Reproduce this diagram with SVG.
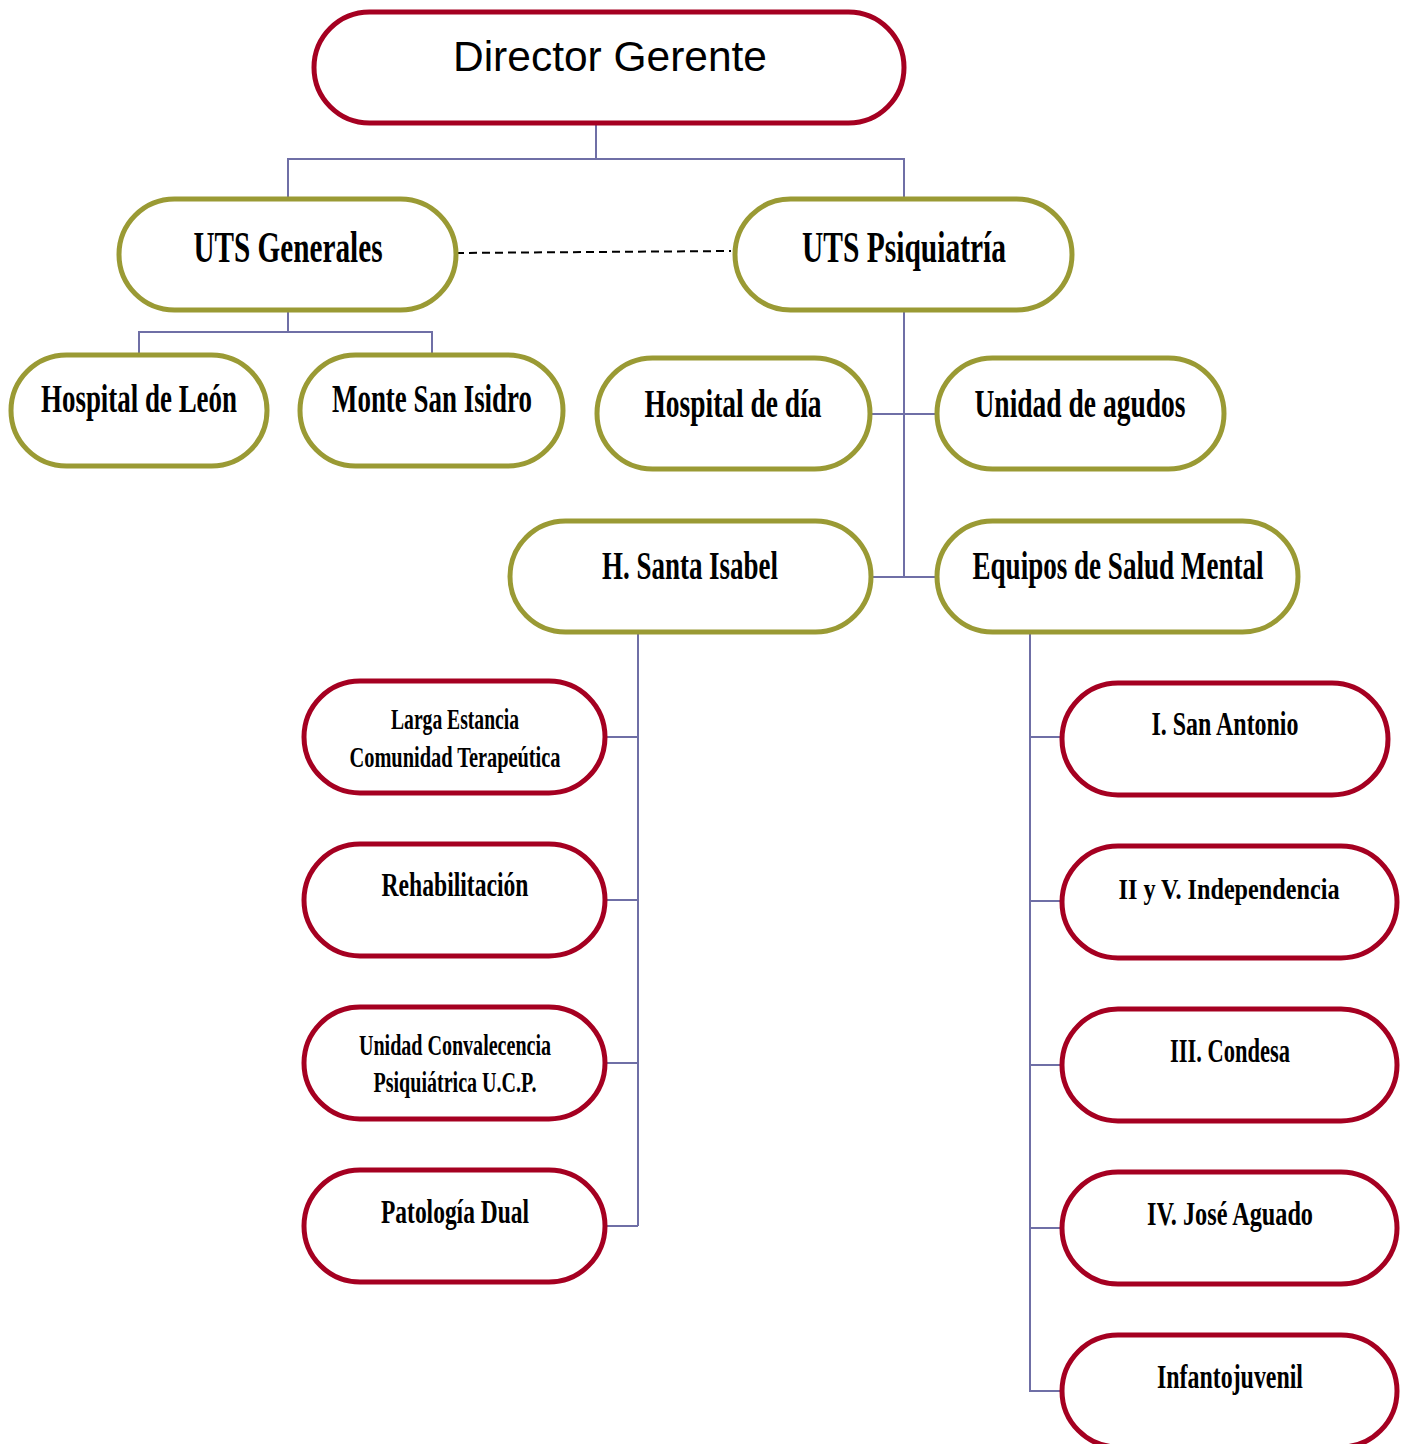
<svg xmlns="http://www.w3.org/2000/svg" width="1408" height="1444" viewBox="0 0 1408 1444">
<style>
.red{fill:#fff;stroke:#A50021;stroke-width:5}
.olv{fill:#fff;stroke:#9A9A34;stroke-width:5}
.con{fill:none;stroke:#6F6FA6;stroke-width:2}
.dash{fill:none;stroke:#000;stroke-width:2;stroke-dasharray:8 5}
.t{font-family:"Liberation Serif","Times New Roman",serif;font-weight:bold;fill:#000;text-anchor:middle}
.a{font-family:"Liberation Sans",Arial,sans-serif;font-size:42px;fill:#000;text-anchor:middle}
</style>
<rect width="1408" height="1444" fill="#fff"/>
<g id="connectors">
<polyline class="con" points="596,123 596,159"/>
<polyline class="con" points="288,199 288,159 904,159 904,199"/>
<line class="dash" x1="456" y1="253" x2="731" y2="251"/>
<polyline class="con" points="288,310 288,332"/>
<polyline class="con" points="139,355 139,332 432,332 432,355"/>
<polyline class="con" points="904,310 904,577"/>
<polyline class="con" points="870,414 937,414"/>
<polyline class="con" points="871,577 937,577"/>
<polyline class="con" points="638,632 638,1226"/>
<polyline class="con" points="605,737 638,737"/>
<polyline class="con" points="605,900 638,900"/>
<polyline class="con" points="605,1063 638,1063"/>
<polyline class="con" points="605,1226 638,1226"/>
<polyline class="con" points="1030,632 1030,1391 1062,1391"/>
<polyline class="con" points="1030,737 1062,737"/>
<polyline class="con" points="1030,901 1062,901"/>
<polyline class="con" points="1030,1065 1062,1065"/>
<polyline class="con" points="1030,1228 1062,1228"/>
</g>
<g id="director">
<rect class="red" x="314" y="12" width="590" height="111" rx="55.5"/>
<text class="a" x="610" y="71" textLength="314" lengthAdjust="spacingAndGlyphs">Director Gerente</text>
</g>
<g id="uts-generales">
<rect class="olv" x="119" y="199" width="337" height="111" rx="55.5"/>
<text class="t" x="288" y="262" font-size="44" textLength="189" lengthAdjust="spacingAndGlyphs">UTS Generales</text>
</g>
<g id="uts-psiquiatria">
<rect class="olv" x="735" y="199" width="337" height="111" rx="55.5"/>
<text class="t" x="904" y="262" font-size="44" textLength="204" lengthAdjust="spacingAndGlyphs">UTS Psiquiatría</text>
</g>
<g id="hospital-leon">
<rect class="olv" x="11" y="355" width="256" height="111" rx="55.5"/>
<text class="t" x="139" y="412" font-size="40" textLength="196" lengthAdjust="spacingAndGlyphs">Hospital de León</text>
</g>
<g id="monte-san-isidro">
<rect class="olv" x="300" y="355" width="263" height="111" rx="55.5"/>
<text class="t" x="432" y="412" font-size="40" textLength="200" lengthAdjust="spacingAndGlyphs">Monte San Isidro</text>
</g>
<g id="hospital-dia">
<rect class="olv" x="597" y="358" width="273" height="111" rx="55.5"/>
<text class="t" x="733" y="417" font-size="40" textLength="177" lengthAdjust="spacingAndGlyphs">Hospital de día</text>
</g>
<g id="unidad-agudos">
<rect class="olv" x="937" y="358" width="287" height="111" rx="55.5"/>
<text class="t" x="1080" y="417" font-size="40" textLength="211" lengthAdjust="spacingAndGlyphs">Unidad de agudos</text>
</g>
<g id="santa-isabel">
<rect class="olv" x="510" y="521" width="361" height="111" rx="55.5"/>
<text class="t" x="690" y="579" font-size="40" textLength="176" lengthAdjust="spacingAndGlyphs">H. Santa Isabel</text>
</g>
<g id="equipos-salud-mental">
<rect class="olv" x="937" y="521" width="361" height="111" rx="55.5"/>
<text class="t" x="1118" y="579" font-size="40" textLength="291" lengthAdjust="spacingAndGlyphs">Equipos de Salud Mental</text>
</g>
<g id="larga-estancia">
<rect class="red" x="304" y="681" width="301" height="112" rx="56"/>
<text class="t" x="455" y="729" font-size="30" textLength="128" lengthAdjust="spacingAndGlyphs">Larga Estancia</text>
<text class="t" x="455" y="767" font-size="30" textLength="211" lengthAdjust="spacingAndGlyphs">Comunidad Terapeútica</text>
</g>
<g id="rehabilitacion">
<rect class="red" x="304" y="844" width="301" height="112" rx="56"/>
<text class="t" x="455" y="896" font-size="33" textLength="147" lengthAdjust="spacingAndGlyphs">Rehabilitación</text>
</g>
<g id="convalecencia">
<rect class="red" x="304" y="1007" width="301" height="112" rx="56"/>
<text class="t" x="455" y="1055" font-size="30" textLength="192" lengthAdjust="spacingAndGlyphs">Unidad Convalecencia</text>
<text class="t" x="455" y="1092" font-size="30" textLength="163" lengthAdjust="spacingAndGlyphs">Psiquiátrica U.C.P.</text>
</g>
<g id="patologia-dual">
<rect class="red" x="304" y="1170" width="301" height="112" rx="56"/>
<text class="t" x="455" y="1223" font-size="33" textLength="148" lengthAdjust="spacingAndGlyphs">Patología Dual</text>
</g>
<g id="san-antonio">
<rect class="red" x="1062" y="683" width="326" height="112" rx="56"/>
<text class="t" x="1225" y="735" font-size="33" textLength="147" lengthAdjust="spacingAndGlyphs">I. San Antonio</text>
</g>
<g id="independencia">
<rect class="red" x="1062" y="846" width="335" height="112" rx="56"/>
<text class="t" x="1229" y="899" font-size="30" textLength="221" lengthAdjust="spacingAndGlyphs">II y V. Independencia</text>
</g>
<g id="condesa">
<rect class="red" x="1062" y="1009" width="335" height="112" rx="56"/>
<text class="t" x="1230" y="1062" font-size="33" textLength="120" lengthAdjust="spacingAndGlyphs">III. Condesa</text>
</g>
<g id="jose-aguado">
<rect class="red" x="1062" y="1172" width="335" height="112" rx="56"/>
<text class="t" x="1230" y="1225" font-size="33" textLength="166" lengthAdjust="spacingAndGlyphs">IV. José Aguado</text>
</g>
<g id="infantojuvenil">
<rect class="red" x="1062" y="1335" width="335" height="112" rx="56"/>
<text class="t" x="1230" y="1388" font-size="33" textLength="146" lengthAdjust="spacingAndGlyphs">Infantojuvenil</text>
</g>
</svg>
